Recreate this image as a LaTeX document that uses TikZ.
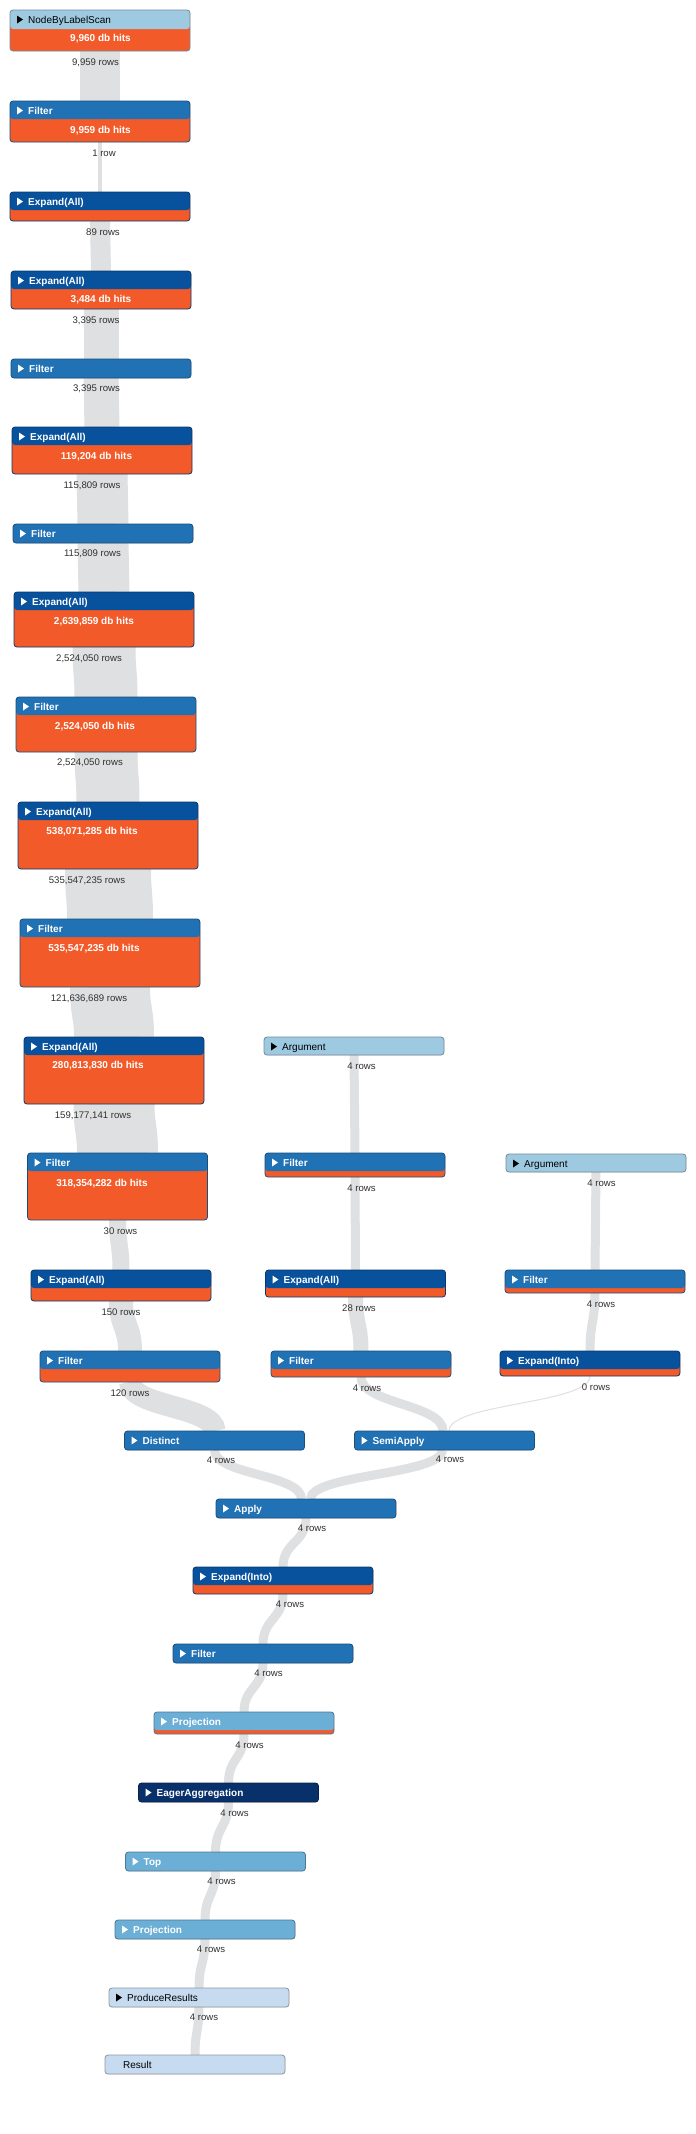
\documentclass[tikz,border=0pt]{standalone}
\usepackage{fontspec}
\setmainfont{Liberation Sans}
\definecolor{hitsorange}{HTML}{F25A29}
\definecolor{blueA}{HTML}{C6DBEF}
\definecolor{blueB}{HTML}{9ECAE1}
\definecolor{blueC}{HTML}{6BAED6}
\definecolor{blueD}{HTML}{2171B5}
\definecolor{blueE}{HTML}{08519C}
\definecolor{blueF}{HTML}{08306B}
\definecolor{pipegray}{HTML}{DFE0E2}
\definecolor{rowtext}{HTML}{303030}
\pgfdeclarelayer{whitebg}
\pgfdeclarelayer{pipes}
\pgfsetlayers{whitebg,pipes,main}
\tikzset{
  hdr/.store in=\ophdr, ttl/.store in=\opttl, tfont/.store in=\optfont, tri/.store in=\optri,
  kA/.style={hdr=blueA, ttl=black, tfont=\mdseries, tri=black},
  kR/.style={hdr=blueA, ttl=black, tfont=\mdseries, tri=none},
  kB/.style={hdr=blueB, ttl=black, tfont=\mdseries, tri=black},
  kC/.style={hdr=blueC, ttl=white, tfont=\bfseries, tri=white},
  kD/.style={hdr=blueD, ttl=white, tfont=\bfseries, tri=white},
  kE/.style={hdr=blueE, ttl=white, tfont=\bfseries, tri=white},
  kF/.style={hdr=blueF, ttl=white, tfont=\bfseries, tri=white},
  opnode/.style={rectangle, rounded corners=3pt, minimum width=180pt, inner sep=0pt, outer sep=0pt, line width=0.8pt, fill=hitsorange},
  opttl/.style={anchor=base west, inner sep=0pt},
  hitsl/.style={anchor=base, inner sep=0pt, yshift=-3.6pt, text=white, font=\fontsize{10pt}{12pt}\selectfont\bfseries},
  rowsl/.style={anchor=base, inner sep=0pt, yshift=-3.6pt, text=rowtext, font=\fontsize{9.6pt}{11pt}\selectfont},
  pipe/.style={draw=pipegray, line cap=butt},
}
\newcommand{\opbox}[7]{%
  \tikzset{#6}%
  \node[opnode, minimum height=#4pt, draw=\ophdr!70!black,
    path picture={\fill[fill=\ophdr] (path picture bounding box.north west) rectangle ([yshift=-#5pt]path picture bounding box.north east);}]
    (#1) at (#2,{#3+#4/2}) {};
  \path[fill=\optri] ([xshift=7pt,yshift=-5.5pt]#1.north west) -- ++(0,8) -- ++(6,-4) -- cycle;
  \node[opttl, text=\opttl, font=\fontsize{10pt}{12pt}\selectfont\optfont] (#1-title) at ([xshift=18pt,yshift=-13pt]#1.north west) {#7};
}
% pipe: from, to, width, half-gap
\newcommand{\rowpipe}[4]{%
  \draw[pipe, line width=#3pt] (#1) .. controls +(0,#4) and +(0,-#4) .. (#2);
}
\begin{document}
\begin{tikzpicture}[x=1pt,y=-1pt]
\begin{pgfonlayer}{whitebg}
\path[use as bounding box, fill=white] (0,0) rectangle (696,2134);
\end{pgfonlayer}
% boxes
\opbox{A1}{100}{10}{41}{19}{kB}{NodeByLabelScan}
\opbox{A2}{100}{101}{41}{18}{kD}{Filter}
\opbox{A3}{100}{192}{29}{18}{kE}{Expand(All)}
\opbox{A4}{101}{271}{38}{18}{kE}{Expand(All)}
\opbox{A5}{101}{359}{19}{21}{kD}{Filter}
\opbox{A6}{102}{427}{47}{18}{kE}{Expand(All)}
\opbox{A7}{103}{524}{19}{21}{kD}{Filter}
\opbox{A8}{104}{592}{55}{18}{kE}{Expand(All)}
\opbox{A9}{106}{697}{55}{18}{kD}{Filter}
\opbox{A10}{108}{802}{67}{18}{kE}{Expand(All)}
\opbox{A11}{110}{919}{68}{18}{kD}{Filter}
\opbox{A12}{114}{1037}{67}{18}{kE}{Expand(All)}
\opbox{A13}{117.5}{1153}{67}{18}{kD}{Filter}
\opbox{A14}{121}{1270}{31}{18}{kE}{Expand(All)}
\opbox{A15}{130}{1351}{31}{18}{kD}{Filter}
\opbox{B1}{354}{1037}{18}{21}{kB}{Argument}
\opbox{B2}{355}{1153}{24}{18}{kD}{Filter}
\opbox{B3}{355.5}{1270}{27}{18}{kE}{Expand(All)}
\opbox{B4}{361}{1351}{26}{18}{kD}{Filter}
\opbox{C1}{596}{1154}{18}{21}{kB}{Argument}
\opbox{C2}{595}{1270}{23}{18}{kD}{Filter}
\opbox{C3}{590}{1351}{25}{18}{kE}{Expand(Into)}
\opbox{D1}{214.5}{1431}{19}{21}{kD}{Distinct}
\opbox{D2}{444.5}{1431}{19}{21}{kD}{SemiApply}
\opbox{E1}{306}{1499}{19}{21}{kD}{Apply}
\opbox{E2}{283}{1567}{27}{18}{kE}{Expand(Into)}
\opbox{E3}{263}{1644}{19}{21}{kD}{Filter}
\opbox{E4}{244}{1712}{22}{18}{kC}{Projection}
\opbox{E5}{228.5}{1783}{19}{21}{kF}{EagerAggregation}
\opbox{E6}{215.5}{1852}{19}{21}{kC}{Top}
\opbox{E7}{205}{1920}{19}{21}{kC}{Projection}
\opbox{E8}{199}{1988}{19}{21}{kA}{ProduceResults}
\opbox{E9}{195}{2055}{19}{21}{kR}{Result}
% db hits
\node[hitsl] (h1) at (100.5,38) {9,960 db hits};
\node[hitsl] (h2) at (100.5,130) {9,959 db hits};
\node[hitsl] (h4) at (101,299) {3,484 db hits};
\node[hitsl] (h6) at (96.5,456) {119,204 db hits};
\node[hitsl] (h8) at (94,621) {2,639,859 db hits};
\node[hitsl] (h9) at (95,726) {2,524,050 db hits};
\node[hitsl] (h10) at (92,831) {538,071,285 db hits};
\node[hitsl] (h11) at (94,948) {535,547,235 db hits};
\node[hitsl] (h12) at (98,1065) {280,813,830 db hits};
\node[hitsl] (h13) at (102,1183) {318,354,282 db hits};
% row pipes
\begin{pgfonlayer}{pipes}
\rowpipe{A1.south}{A2.north}{40}{25}
\rowpipe{A2.south}{A3.north}{4}{25}
\rowpipe{A3.south}{A4.north}{20}{25}
\rowpipe{A4.south}{A5.north}{35}{25}
\rowpipe{A5.south}{A6.north}{35}{25}
\rowpipe{A6.south}{A7.north}{51}{25}
\rowpipe{A7.south}{A8.north}{51}{25}
\rowpipe{A8.south}{A9.north}{63}{25}
\rowpipe{A9.south}{A10.north}{63}{25}
\rowpipe{A10.south}{A11.north}{86}{25}
\rowpipe{A11.south}{A12.north}{80}{25}
\rowpipe{A12.south}{A13.north}{81}{25}
\rowpipe{A13.south}{A14.north}{17}{25}
\rowpipe{A14.south}{A15.north}{24}{25}
\rowpipe{A15.south}{D1.north}{22}{25}
\rowpipe{B1.south}{B2.north}{9}{49}
\rowpipe{B2.south}{B3.north}{9}{46}
\rowpipe{B3.south}{B4.north}{15}{27}
\rowpipe{B4.south}{[xshift=-1.5pt]D2.north}{9}{27}
\rowpipe{C1.south}{C2.north}{9}{49}
\rowpipe{C2.south}{C3.north}{9}{29}
\draw[pipe, line width=1pt] (C3.south) .. controls +(0,28) and +(0,-28) .. ([xshift=4.5pt]D2.north);
\rowpipe{D1.south}{[xshift=-4.5pt]E1.north}{9}{25}
\rowpipe{[xshift=-2pt]D2.south}{[xshift=4.5pt]E1.north}{9}{25}
\rowpipe{E1.south}{E2.north}{9}{25}
\rowpipe{E2.south}{E3.north}{9}{25}
\rowpipe{E3.south}{E4.north}{9}{25}
\rowpipe{E4.south}{E5.north}{9}{25}
\rowpipe{E5.south}{E6.north}{9}{25}
\rowpipe{E6.south}{E7.north}{9}{25}
\rowpipe{E7.south}{E8.north}{9}{25}
\rowpipe{E8.south}{E9.north}{9}{25}
\end{pgfonlayer}
% row labels
\node[rowsl] (r1) at (95.5,62) {9,959 rows};
\node[rowsl] (r2) at (104,153) {1 row};
\node[rowsl] (r3) at (103,232) {89 rows};
\node[rowsl] (r4) at (96,320) {3,395 rows};
\node[rowsl] (r5) at (96.5,388) {3,395 rows};
\node[rowsl] (r6) at (92,485) {115,809 rows};
\node[rowsl] (r6b) at (92.5,553) {115,809 rows};
\node[rowsl] (r7) at (89,658) {2,524,050 rows};
\node[rowsl] (r8) at (90,762) {2,524,050 rows};
\node[rowsl] (r9) at (87,880) {535,547,235 rows};
\node[rowsl] (r10) at (89,998) {121,636,689 rows};
\node[rowsl] (r11) at (93,1115) {159,177,141 rows};
\node[rowsl] (r12) at (120.5,1231) {30 rows};
\node[rowsl] (r13) at (121,1312) {150 rows};
\node[rowsl] (r14) at (130,1393) {120 rows};
\node[rowsl] (r15) at (361.5,1066) {4 rows};
\node[rowsl] (r16) at (361.5,1188) {4 rows};
\node[rowsl] (r17) at (359,1308) {28 rows};
\node[rowsl] (r18) at (367,1388) {4 rows};
\node[rowsl] (r19) at (601.5,1183) {4 rows};
\node[rowsl] (r20) at (601,1304) {4 rows};
\node[rowsl] (r21) at (596,1387) {0 rows};
\node[rowsl] (r22) at (450,1459) {4 rows};
\node[rowsl] (r23) at (221,1460) {4 rows};
\node[rowsl] (r24) at (312,1528) {4 rows};
\node[rowsl] (r25) at (290,1604) {4 rows};
\node[rowsl] (r26) at (268.5,1673) {4 rows};
\node[rowsl] (r27) at (249.5,1745) {4 rows};
\node[rowsl] (r28) at (234.5,1813) {4 rows};
\node[rowsl] (r29) at (221.5,1881) {4 rows};
\node[rowsl] (r30) at (211,1949) {4 rows};
\node[rowsl] (r31) at (204,2017) {4 rows};
\end{tikzpicture}
\end{document}
